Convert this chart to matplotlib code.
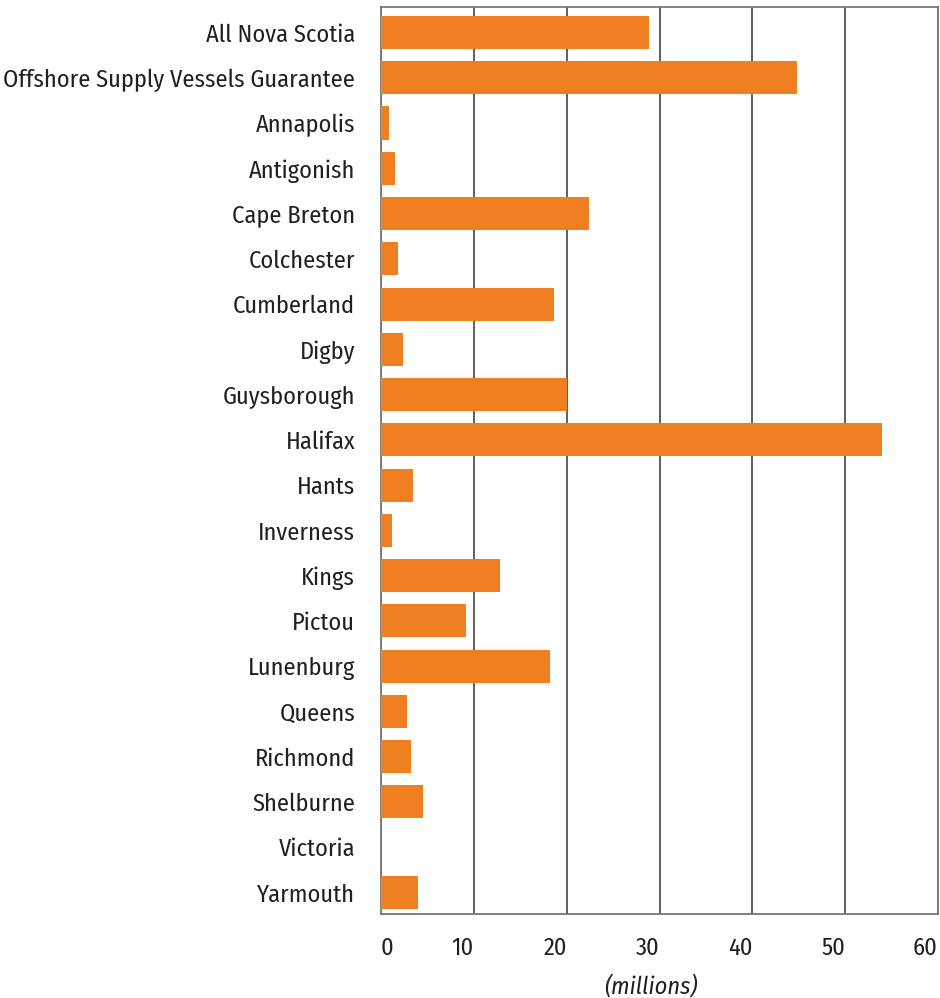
import matplotlib
matplotlib.use("Agg")
import matplotlib.pyplot as plt

categories = ["All Nova Scotia", "Offshore Supply Vessels Guarantee", "Annapolis", "Antigonish",
              "Cape Breton", "Colchester", "Cumberland", "Digby", "Guysborough", "Halifax",
              "Hants", "Inverness", "Kings", "Pictou", "Lunenburg", "Queens", "Richmond",
              "Shelburne", "Victoria", "Yarmouth"]
values = [28.9, 44.8, 0.9, 1.5, 22.4, 1.8, 18.6, 2.4, 20.0, 54.0,
          3.5, 1.2, 12.8, 9.2, 18.2, 2.8, 3.2, 4.5, 0.0, 4.0]
xticks = [0, 10, 20, 30, 40, 50, 60]
xlabel = "(millions)"

plt.rcParams["font.family"] = ["Fira Sans Condensed", "DejaVu Sans"]

txt = "#231f20"
fig = plt.figure(figsize=(9.4, 9.98), dpi=100)
ax = fig.add_axes([381/940, 1-914/998, (938-381)/940, (914-7)/998])
ypos = list(range(len(categories)))
ax.barh(ypos, values, height=0.73, color="#f07f22", zorder=3)
ax.set_ylim(len(categories) - 1 + 0.475, -0.563)
ax.set_xlim(0, 60)
ax.set_xticks(xticks)
ax.set_xticklabels([str(t) for t in xticks], fontsize=17.5, color=txt)
for i, lab in enumerate(ax.get_xticklabels()):
    lab.set_horizontalalignment("left" if i == 0 else "right")
ax.set_yticks(ypos)
ax.set_yticklabels(categories, fontsize=17.5, color=txt)
ax.tick_params(axis="both", length=0)
ax.tick_params(axis="y", pad=18.7)
ax.tick_params(axis="x", pad=16.5)
ax.grid(axis="x", color="#333333", linewidth=1.1, zorder=1)
for s in ax.spines.values():
    s.set_color("#777777")
    s.set_linewidth(1.3)
fig.text(651/940, 1-986/998, xlabel, fontsize=17.5, style="italic", color=txt,
         ha="center", va="center")
fig.savefig("out.png", dpi=100)
